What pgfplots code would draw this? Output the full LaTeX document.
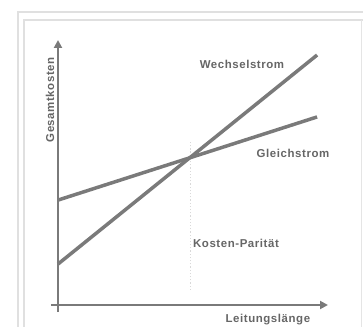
\documentclass[border=0pt]{standalone}
\usepackage{pgfplots}
\pgfplotsset{compat=1.18}
\usetikzlibrary{arrows.meta}
\usepackage{fontspec}
\setmainfont{Liberation Sans}
\definecolor{ln}{HTML}{7A7A7A}
\definecolor{tx}{HTML}{666666}
\tikzset{lbl/.style={font=\fontsize{11.5}{13}\selectfont\bfseries\addfontfeatures{LetterSpace=5}, text=tx, inner sep=0pt}}
\begin{document}
\begin{tikzpicture}[x=1bp,y=1bp]
\path[use as bounding box] (-58,-22) rectangle (305,305);
\draw[black!12,line width=1.5bp] (-40,-22) -- (-40,293) -- (305,293);
\draw[black!12,line width=1.5bp] (-34,-22) -- (-34,285) -- (305,285);
\draw[black!10,line width=1bp] (304,285) -- (304,-22);
\begin{axis}[
  at={(0,0)}, anchor=origin,
  scale only axis, width=270bp, height=265bp,
  xmin=0, xmax=10.42, ymin=0, ymax=10.23,
  axis x line=bottom, axis y line=left,
  axis line style={ln, line width=2.5bp, -{Triangle[width=8bp,length=8bp]}, shorten <=-7bp},
  xtick=\empty, ytick=\empty,
  clip=false,
]
\addplot[black!15, line width=1.2bp, dotted] coordinates {(5.1,0.58) (5.1,6.37)};
\addplot[ln, line width=3.5bp] coordinates {(0,4.05) (10,7.26)};
\addplot[ln, line width=3.5bp] coordinates {(0,1.58) (10,9.65)};
\node[lbl] at (axis cs:7.1,9.27) {Wechselstrom};
\node[lbl] at (axis cs:9.07,5.87) {Gleichstrom};
\node[lbl] at (axis cs:6.87,2.36) {Kosten-Parität};
\node[lbl] at (axis cs:8.1,-0.58) {Leitungslänge};
\node[lbl, rotate=90] at (axis cs:-0.31,7.92) {Gesamtkosten};
\end{axis}
\end{tikzpicture}
\end{document}
